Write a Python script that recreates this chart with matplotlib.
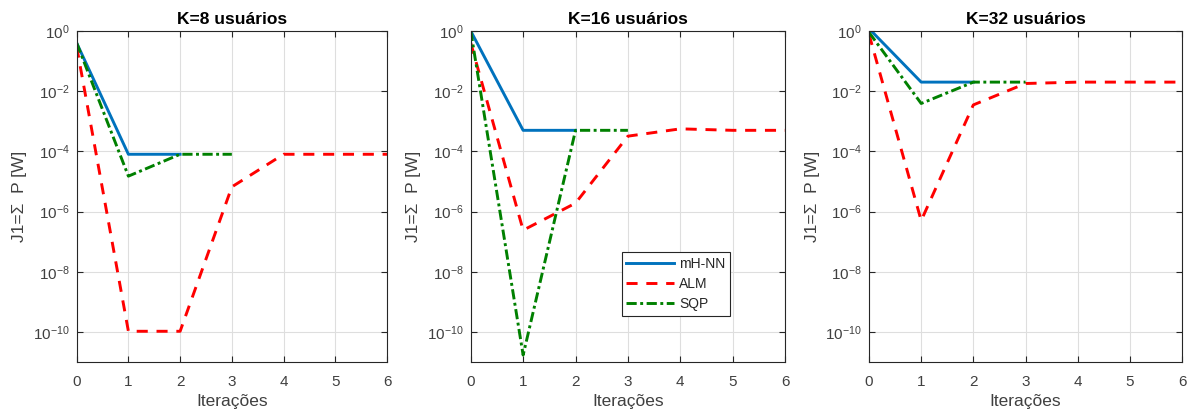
import numpy as np
import matplotlib
matplotlib.use("Agg")
import matplotlib.pyplot as plt

plt.rcParams['font.family'] = ['Liberation Sans', 'DejaVu Sans']

# Convergence of the total power cost per iteration, one panel per K
titles = ["K=8 usuários", "K=16 usuários", "K=32 usuários"]
methods = ["mH-NN", "ALM", "SQP"]

it_mhnn = [[0, 1, 2], [0, 1, 2], [0, 1, 2]]
it_alm = [[0, 1, 2, 3, 4, 5, 6], [0, 1, 2, 3, 4, 5, 6], [0, 1, 2, 3, 4, 5, 6]]
it_sqp = [[0, 1, 2, 3], [0, 1, 2, 3], [0, 1, 2, 3]]

j1_mhnn = [
    [0.4, 8e-5, 8e-5],
    [1.0, 5e-4, 5e-4],
    [1.2, 2e-2, 2e-2],
]
j1_alm = [
    [0.3, 1.05e-10, 1.05e-10, 6.6e-6, 8e-5, 8e-5, 8e-5],
    [0.4, 2.4e-7, 1.9e-6, 3.2e-4, 5.6e-4, 5e-4, 5e-4],
    [0.78, 5e-7, 3.5e-3, 1.8e-2, 2e-2, 2e-2, 2e-2],
]
j1_sqp = [
    [0.4, 1.5e-5, 8e-5, 8e-5],
    [1.0, 1.7e-11, 5e-4, 5e-4],
    [0.9, 3.9e-3, 2e-2, 2e-2],
]

yticks = [1e-10, 1e-8, 1e-6, 1e-4, 1e-2, 1e0]
ytick_labels = [r"$\mathregular{10^{-10}}$", r"$\mathregular{10^{-8}}$",
                r"$\mathregular{10^{-6}}$", r"$\mathregular{10^{-4}}$",
                r"$\mathregular{10^{-2}}$", r"$\mathregular{10^{0}}$"]

blue = "#0072BD"
red = "#FF0000"
green = "#008000"
axis_gray = "#262626"
text_gray = "#404040"

fig = plt.figure(figsize=(11.96, 4.16), dpi=100)
lefts = [0.0641, 0.3936, 0.7266]
widths = [0.2595, 0.2628, 0.2617]

for i in range(3):
    ax = fig.add_axes([lefts[i], 0.1298, widths[i], 0.7957])
    ax.semilogy(it_mhnn[i], j1_mhnn[i], color=blue, lw=2.1, ls='-', label=methods[0])
    ax.semilogy(it_alm[i], j1_alm[i], color=red, lw=2.1, ls=(0, (3.8, 3)), label=methods[1])
    ax.semilogy(it_sqp[i], j1_sqp[i], color=green, lw=2.1, ls=(0, (3.5, 1.2, 1, 1.2)), label=methods[2])

    ax.set_xlim(0, 6)
    ax.set_ylim(1e-11, 1e0)
    ax.set_xticks(range(7))
    ax.set_yticks(yticks)
    ax.set_yticklabels(ytick_labels)
    ax.minorticks_off()
    ax.grid(True, color="#dedede", lw=0.8)
    ax.tick_params(direction='in', colors=axis_gray, labelcolor=text_gray, labelsize=11,
                   length=4, top=True, right=True, labeltop=False, labelright=False)
    ax.tick_params(axis='x', pad=9)
    ax.tick_params(axis='y', pad=5)
    for sp in ax.spines.values():
        sp.set_color(axis_gray)
        sp.set_linewidth(0.8)

    ax.set_title(titles[i], fontsize=12.5, fontweight='bold', pad=5)
    ax.set_xlabel("Iterações", fontsize=12.5, color=text_gray, labelpad=4)
    ax.set_ylabel("J1=Σ  P [W]", fontsize=12.5, color=text_gray, labelpad=4)

    if i == 1:
        leg = ax.legend(loc='lower left', bbox_to_anchor=(0.48, 0.139), fontsize=10,
                        fancybox=False, framealpha=1, edgecolor=axis_gray,
                        handlelength=3.4, handletextpad=0.4, borderpad=0.35,
                        labelspacing=0.45, borderaxespad=0)
        leg.get_frame().set_linewidth(0.8)
        for t in leg.get_texts():
            t.set_color(axis_gray)

fig.savefig("out.png", dpi=100)
